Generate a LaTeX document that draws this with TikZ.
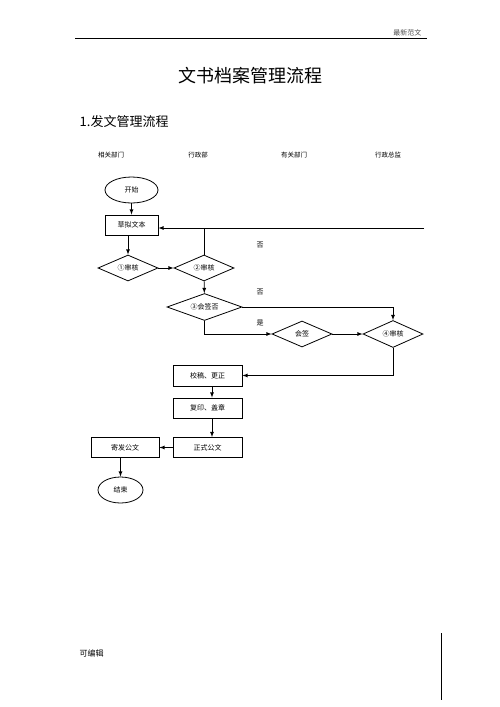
\documentclass[tikz,border=0pt]{standalone}
\usepackage{fontspec}
\setmainfont{Noto Sans CJK SC}
\usepackage{tikz}
\usetikzlibrary{arrows.meta}
\usetikzlibrary{positioning}
\usetikzlibrary{shapes.geometric}
\tikzset{>=latex}
\tikzstyle{box} = [rectangle, draw=black, inner sep=0pt, minimum width=69pt, minimum height=21pt, font=\fontsize{7}{8}\selectfont]
\tikzstyle{dia} = [diamond, draw=black, shape aspect=2.5, inner sep=0pt, minimum width=60pt, minimum height=26pt, font=\fontsize{7}{8}\selectfont]
\tikzstyle{term} = [ellipse, draw=black, inner sep=0pt, minimum height=26pt, font=\fontsize{7}{8}\selectfont]
\tikzstyle{lbl} = [draw=none, font=\fontsize{7}{8}\selectfont]
\tikzstyle{col} = [draw=none, font=\fontsize{6.5}{8}\selectfont]

\begin{document}
\begin{tikzpicture}[x=1pt, y=-1pt, line width=0.8pt]
\useasboundingbox (0,0) rectangle (500,707);
% page header and footer
\draw [line width=0.7pt] (75,38) -- (427,38);
\node [lbl, anchor=base east, text=black!70] (head) at (425,35) {最新范文};
\node [draw=none, font=\fontsize{18}{20}\selectfont] (title) at (250,76) {文书档案管理流程};
\node [draw=none, anchor=west, font=\fontsize{13}{15}\selectfont] (sec) at (76,122) {1.发文管理流程};
\node [lbl, anchor=west, font=\fontsize{8}{9}\selectfont] (foot) at (76,653) {可编辑};
\draw [line width=0.7pt] (441,633) -- (441,700);
% columns
\node [col] (c1) at (111,155) {相关部门};
\node [col] (c2) at (198,155) {行政部};
\node [col] (c3) at (294,155) {有关部门};
\node [col] (c4) at (388,155) {行政总监};
% flow
\node [term, minimum width=53pt] (start) at (131.5,190) {开始};
\node [box, minimum width=53pt, minimum height=20pt] (draft) at (131.5,225) {草拟文本};
\node [dia] (r1) at (128,268) {①审核};
\node [dia] (r2) at (204,268) {②审核};
\node [dia, minimum width=75pt, minimum height=27pt] (r3) at (204.5,307) {③会签否};
\node [dia] (sign) at (302,334) {会签};
\node [dia, minimum height=27pt] (r4) at (393,334) {④审核};
\node [box] (fix) at (207.5,375.5) {校稿、更正};
\node [box, minimum height=20pt] (copy) at (207.5,408) {复印、盖章};
\node [box, minimum height=20pt] (doc) at (207.5,447.5) {正式公文};
\node [box, minimum width=68pt, minimum height=20pt] (send) at (125,447.5) {寄发公文};
\node [term, minimum width=45pt] (end) at (120.5,490) {结束};
\coordinate (ret) at (424,228);
\coordinate (jn) at (204,228);
\draw [-latex] (start) to (draft);
\draw [-latex] (draft.south -| r1.north) to (r1.north);
\draw [-latex] (r1) to (r2);
\draw [-latex] (ret) to (draft.east |- ret);
\draw (r2.north) to (jn);
\draw [-latex] (r2) to (r3);
\draw [-latex] (r3.east) -| (r4.north);
\draw [-latex] (r3.south) |- (sign.west);
\draw [-latex] (sign) to (r4);
\draw [-latex] (r4.south) |- (fix.east);
\draw [-latex] (fix.south -| 212,0) to (copy.north -| 212,0);
\draw [-latex] (copy.south -| 212,0) to (doc.north -| 212,0);
\draw [-latex] (doc) to (send);
\draw [-latex] (send.south -| end.north) to (end);
% labels
\node [lbl] (no1) at (260,245) {否};
\node [lbl] (no2) at (260,292) {否};
\node [lbl] (yes) at (260,323) {是};
\end{tikzpicture}
\end{document}
